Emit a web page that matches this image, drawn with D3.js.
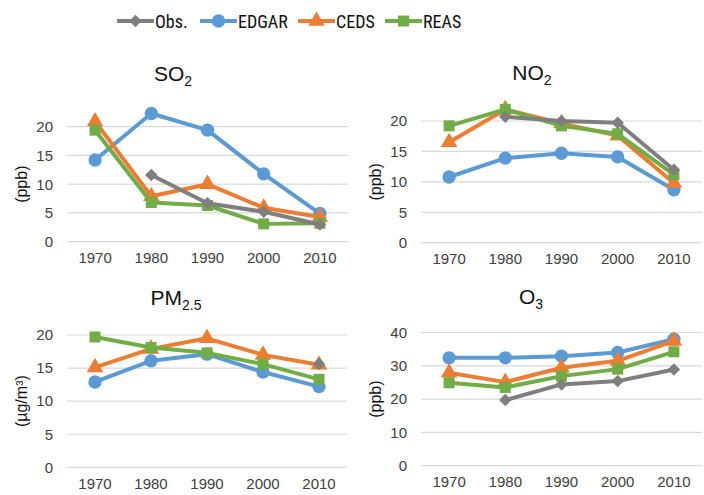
<!DOCTYPE html>
<html>
<head>
<style>
body{ margin:0; background:#fff; }
svg text{ font-family: "Liberation Sans", Arial, sans-serif; }
.leg text{ font-family: "Liberation Sans Narrow", "Roboto Condensed", "DejaVu Sans Condensed", sans-serif; }
</style>
</head>
<body>
<svg id="chart"></svg>
<script src="https://cdn.jsdelivr.net/npm/d3@7"></script>
<script>
var years = [1970, 1980, 1990, 2000, 2010];
var seriesNames = ["Obs.", "EDGAR", "CEDS", "REAS"];

var so2Obs   = [null, 11.6, 6.7, 5.2, 3.0];
var so2Edgar = [14.2, 22.3, 19.4, 11.8, 4.9];
var so2Ceds  = [20.9, 7.9, 10.0, 5.9, 4.3];
var so2Reas  = [19.4, 6.8, 6.3, 3.1, 3.2];

var no2Obs   = [null, 20.7, 20.0, 19.7, 12.0];
var no2Edgar = [10.8, 13.9, 14.7, 14.1, 8.7];
var no2Ceds  = [16.5, 21.9, 19.6, 17.6, 9.8];
var no2Reas  = [19.2, 21.9, 19.2, 17.9, 11.2];

var pmObs    = [null, null, null, null, 15.6];
var pmEdgar  = [12.9, 16.1, 17.1, 14.4, 12.2];
var pmCeds   = [15.1, 17.9, 19.5, 17.0, 15.5];
var pmReas   = [19.7, 18.1, 17.3, 15.6, 13.3];

var o3Obs    = [null, 19.7, 24.4, 25.4, 28.9];
var o3Edgar  = [32.4, 32.4, 32.9, 34.0, 38.0];
var o3Ceds   = [27.9, 25.1, 29.4, 31.5, 37.5];
var o3Reas   = [24.9, 23.5, 26.9, 29.0, 34.2];

var ticksPpb20 = [0, 5, 10, 15, 20];
var ticksPpb40 = [0, 10, 20, 30, 40];

var colors = {"Obs.": "#7f7f7f", "EDGAR": "#5b9bd5", "CEDS": "#ed7d31", "REAS": "#70ad47"};
var shapes = {"Obs.": "diamond", "EDGAR": "circle", "CEDS": "triangle", "REAS": "square"};

var W = 704, H = 495;
var svg = d3.select("#chart").attr("width", W).attr("height", H);

function marker(name) {
    var s = shapes[name];
    if (s === "circle") return d3.symbol(d3.symbolCircle, 140)();
    if (s === "triangle") return d3.symbol(d3.symbolTriangle, 120)();
    if (s === "square") return d3.symbol(d3.symbolSquare, 121)();
    return d3.symbol(d3.symbolSquare, 78)();
}

// panel frames: x extent of plot, pixel y of 0 and of the top tick
var panels = [
    {title: "SO", sub: "2", unit: "(ppb)", ticks: ticksPpb20, x0: 67, x1: 348, y0: 241.7, yTop: 126.7, tx: 173, ty: 81,
     data: {"Obs.": so2Obs, "EDGAR": so2Edgar, "CEDS": so2Ceds, "REAS": so2Reas}},
    {title: "NO", sub: "2", unit: "(ppb)", ticks: ticksPpb20, x0: 421, x1: 702, y0: 242.7, yTop: 121, tx: 532, ty: 80,
     data: {"Obs.": no2Obs, "EDGAR": no2Edgar, "CEDS": no2Ceds, "REAS": no2Reas}},
    {title: "PM", sub: "2.5", unit: "(µg/m³)", ticks: ticksPpb20, x0: 67, x1: 347, y0: 467.3, yTop: 335, tx: 176, ty: 305,
     data: {"Obs.": pmObs, "EDGAR": pmEdgar, "CEDS": pmCeds, "REAS": pmReas}},
    {title: "O", sub: "3", unit: "(ppb)", ticks: ticksPpb40, x0: 421, x1: 702, y0: 465.7, yTop: 332.5, tx: 531, ty: 304,
     data: {"Obs.": o3Obs, "EDGAR": o3Edgar, "CEDS": o3Ceds, "REAS": o3Reas}}
];

panels.forEach(function (p) {
    var g = svg.append("g");
    var x = d3.scaleBand().domain(years).range([p.x0, p.x1]);
    var y = d3.scaleLinear().domain([0, d3.max(p.ticks)]).range([p.y0, p.yTop]);

    // gridlines
    g.selectAll(".grid").data(p.ticks).enter().append("line")
        .attr("x1", p.x0).attr("x2", p.x1)
        .attr("y1", function (d) { return y(d); })
        .attr("y2", function (d) { return y(d); })
        .attr("stroke", "#d9d9d9").attr("stroke-width", 1.2);

    // y axis labels
    var ya = g.append("g").attr("transform", "translate(" + p.x0 + ",0)")
        .call(d3.axisLeft(y).tickValues(p.ticks).tickSize(0).tickPadding(14));
    ya.select(".domain").remove();
    ya.selectAll("text").attr("font-size", 15).attr("fill", "#404040")
        .style("font-family", "Liberation Sans, Arial, sans-serif");

    // x axis labels
    var xa = g.append("g").attr("transform", "translate(0," + p.y0 + ")")
        .call(d3.axisBottom(x).tickSize(0).tickPadding(11));
    xa.select(".domain").remove();
    xa.selectAll("text").attr("font-size", 15).attr("fill", "#404040")
        .style("font-family", "Liberation Sans, Arial, sans-serif");

    // title
    var t = g.append("text").attr("x", p.tx).attr("y", p.ty)
        .attr("text-anchor", "middle").attr("font-size", 21).attr("fill", "#111");
    t.append("tspan").text(p.title);
    t.append("tspan").text(p.sub).attr("font-size", 14).attr("dy", 5);

    // unit label
    var uy = (y(0) + y(d3.max(p.ticks))) / 2;
    var ut = g.append("text")
        .attr("transform", "translate(" + (p.x0 - 40) + "," + uy + ") rotate(-90)")
        .attr("text-anchor", "middle").attr("font-size", 16).attr("fill", "#111");
    ut.text(p.unit);

    // series: models first, observations on top
    ["EDGAR", "CEDS", "REAS", "Obs."].forEach(function (name) {
        var pts = years.map(function (yr, i) { return {yr: yr, v: p.data[name][i]}; })
            .filter(function (d) { return d.v !== null; });
        var line = d3.line()
            .x(function (d) { return x(d.yr) + x.bandwidth() / 2; })
            .y(function (d) { return y(d.v); });
        g.append("path").datum(pts).attr("d", line)
            .attr("fill", "none").attr("stroke", colors[name])
            .attr("stroke-width", 4).attr("stroke-linejoin", "round");
        g.selectAll(".m" + name.replace(".", "")).data(pts).enter().append("path")
            .attr("d", marker(name))
            .attr("transform", function (d) {
                var tr = "translate(" + (x(d.yr) + x.bandwidth() / 2) + "," + y(d.v) + ")";
                return shapes[name] === "diamond" ? tr + " rotate(45)" : tr;
            })
            .attr("fill", colors[name]);
    });
});

// legend
var legendX = [117, 200, 298, 385];
var leg = svg.append("g").attr("class", "leg");
seriesNames.forEach(function (name, i) {
    var lx = legendX[i], ly = 21;
    leg.append("line").attr("x1", lx).attr("x2", lx + 37).attr("y1", ly).attr("y2", ly)
        .attr("stroke", colors[name]).attr("stroke-width", 4);
    leg.append("path").attr("d", marker(name))
        .attr("transform", "translate(" + (lx + 18.5) + "," + ly + ")" + (shapes[name] === "diamond" ? " rotate(45)" : ""))
        .attr("fill", colors[name]);
    leg.append("text").attr("x", lx + 38).attr("y", ly + 6.5).attr("font-size", 18)
        .attr("fill", "#111").text(name);
});
</script>
</body>
</html>
